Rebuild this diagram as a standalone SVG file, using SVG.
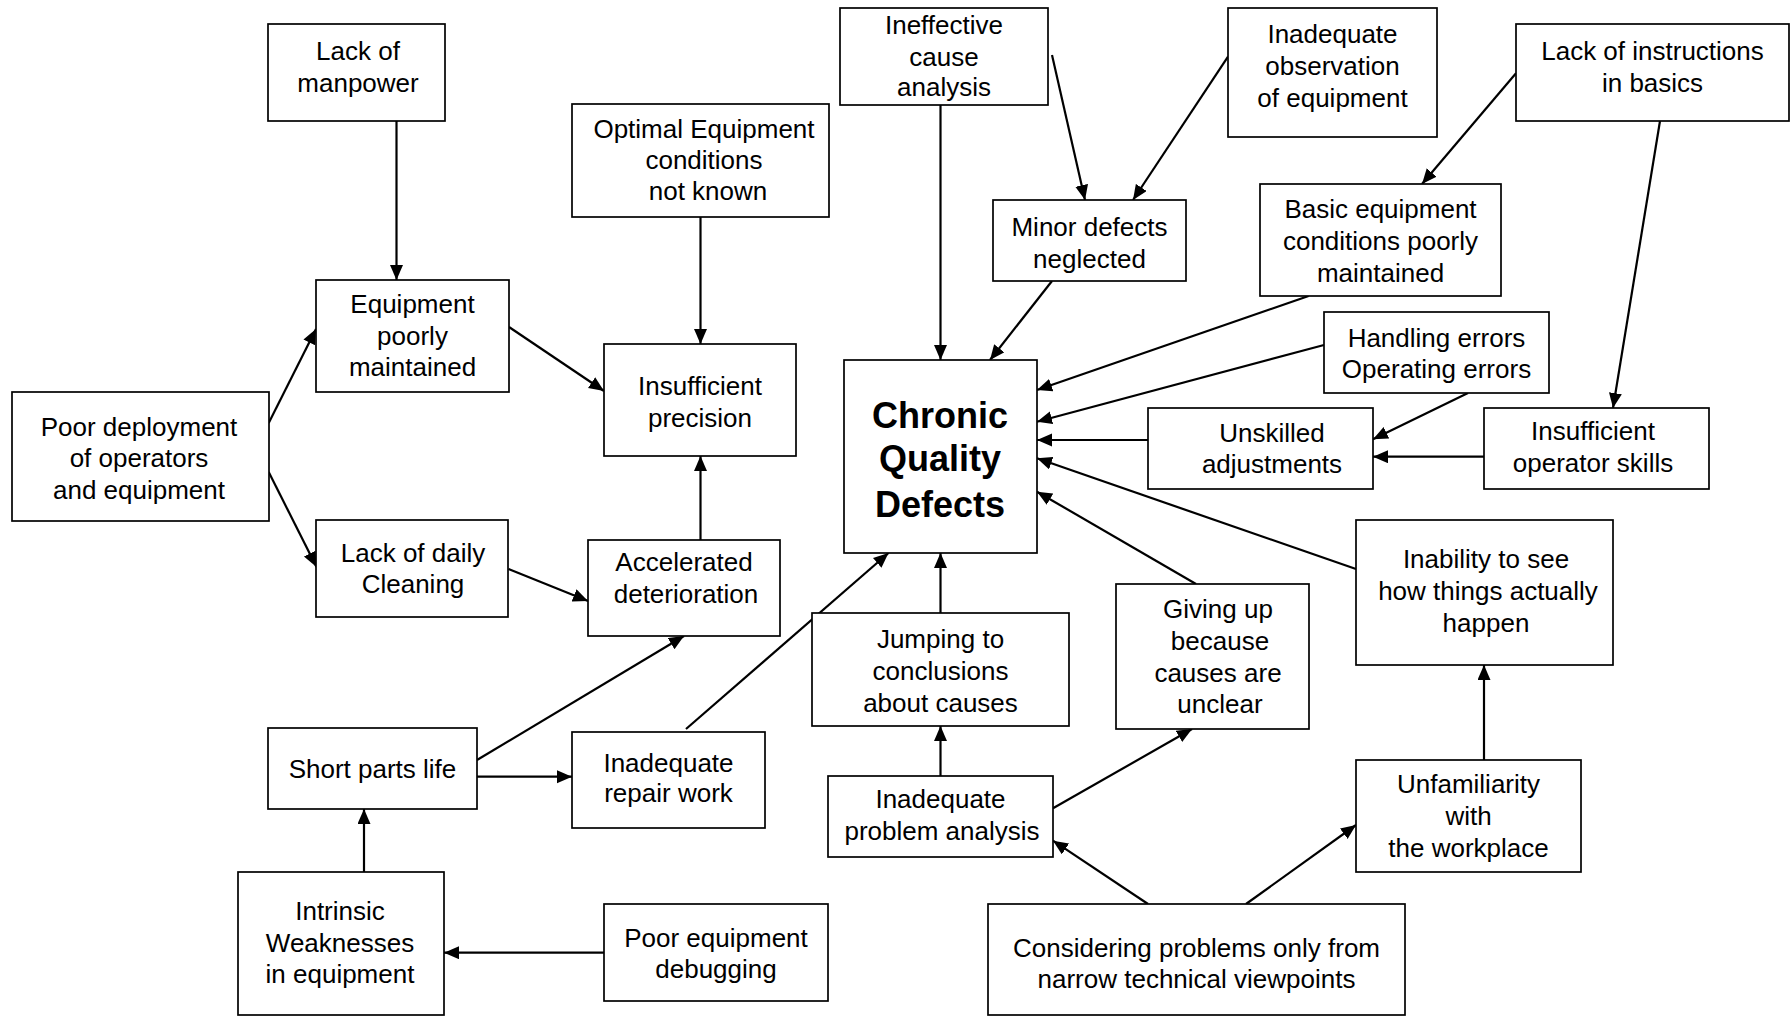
<svg xmlns="http://www.w3.org/2000/svg" width="1791" height="1016" viewBox="0 0 1791 1016">
<style>
.box{fill:#fff;stroke:#000;stroke-width:1.7}
.t{font-family:"Liberation Sans",Arial,sans-serif;font-size:26px;fill:#000;text-anchor:middle}
.b{font-family:"Liberation Sans",Arial,sans-serif;font-size:36px;font-weight:bold;fill:#000;text-anchor:middle}
.c{stroke:#000;stroke-width:2.2;fill:none;marker-end:url(#ah)}
</style>
<defs>
<marker id="ah" markerUnits="userSpaceOnUse" markerWidth="16" markerHeight="14" refX="15" refY="6.5" orient="auto">
<path d="M0,0 L15,6.5 L0,13 z" fill="#000"/>
</marker>
</defs>
<rect width="1791" height="1016" fill="#fff"/>
<g id="connectors">
<line class="c" x1="396.5" y1="121" x2="396.5" y2="280"/>
<line class="c" x1="268.7" y1="423" x2="316" y2="329"/>
<line class="c" x1="268.7" y1="472" x2="316.5" y2="567"/>
<line class="c" x1="509" y1="327" x2="604" y2="391"/>
<line class="c" x1="700.5" y1="217" x2="700.5" y2="344"/>
<line class="c" x1="700.5" y1="540" x2="700.5" y2="456"/>
<line class="c" x1="508.5" y1="569" x2="588" y2="601"/>
<line class="c" x1="477" y1="760" x2="684" y2="636"/>
<line class="c" x1="477" y1="776.7" x2="572" y2="776.7"/>
<line class="c" x1="686" y1="729" x2="888.5" y2="553"/>
<line class="c" x1="364" y1="872" x2="364" y2="809"/>
<line class="c" x1="604" y1="952.7" x2="444" y2="952.7"/>
<line class="c" x1="940.5" y1="105" x2="940.5" y2="360"/>
<line class="c" x1="1052" y1="55" x2="1085" y2="200"/>
<line class="c" x1="1228" y1="56.7" x2="1133" y2="200"/>
<line class="c" x1="1052" y1="281" x2="990" y2="360"/>
<line class="c" x1="1308.6" y1="296" x2="1037" y2="390"/>
<line class="c" x1="1324" y1="345" x2="1037" y2="421.7"/>
<line class="c" x1="1148" y1="440" x2="1037" y2="440"/>
<line class="c" x1="1356" y1="569" x2="1037" y2="458.3"/>
<line class="c" x1="1196" y1="584" x2="1037" y2="491.7"/>
<line class="c" x1="940.5" y1="613" x2="940.5" y2="553"/>
<line class="c" x1="1516" y1="73.3" x2="1422" y2="184"/>
<line class="c" x1="1660" y1="121" x2="1613" y2="408"/>
<line class="c" x1="1468" y1="393" x2="1373" y2="439.3"/>
<line class="c" x1="1484" y1="456.7" x2="1373" y2="456.7"/>
<line class="c" x1="940.5" y1="776" x2="940.5" y2="726"/>
<line class="c" x1="1053" y1="808.3" x2="1192" y2="729"/>
<line class="c" x1="1148" y1="904" x2="1053" y2="840.7"/>
<line class="c" x1="1246" y1="904" x2="1356" y2="825"/>
<line class="c" x1="1484" y1="760" x2="1484" y2="665"/>
</g>
<g id="lack-manpower"><rect class="box" x="268" y="24" width="177" height="97"/><text class="t" x="358" y="60">Lack of</text><text class="t" x="358" y="91.7">manpower</text></g>
<g id="equipment-poorly"><rect class="box" x="316" y="280" width="193" height="112"/><text class="t" x="412.5" y="313">Equipment</text><text class="t" x="412.5" y="345">poorly</text><text class="t" x="412.5" y="376">maintained</text></g>
<g id="poor-deployment"><rect class="box" x="12" y="392" width="257" height="129"/><text class="t" x="139" y="435.5">Poor deployment</text><text class="t" x="139" y="467">of operators</text><text class="t" x="139" y="498.5">and equipment</text></g>
<g id="optimal-conditions"><rect class="box" x="572" y="104" width="257" height="113"/><text class="t" x="704" y="138">Optimal Equipment</text><text class="t" x="704" y="169">conditions</text><text class="t" x="708" y="200">not known</text></g>
<g id="insufficient-precision"><rect class="box" x="604" y="344" width="192" height="112"/><text class="t" x="700" y="395">Insufficient</text><text class="t" x="700" y="427">precision</text></g>
<g id="lack-daily-cleaning"><rect class="box" x="316" y="520" width="192" height="97"/><text class="t" x="413" y="561.7">Lack of daily</text><text class="t" x="413" y="593.3">Cleaning</text></g>
<g id="accelerated-deterioration"><rect class="box" x="588" y="540" width="192" height="96"/><text class="t" x="684" y="570.7">Accelerated</text><text class="t" x="686" y="602.7">deterioration</text></g>
<g id="short-parts-life"><rect class="box" x="268" y="728" width="209" height="81"/><text class="t" x="372.5" y="778.3">Short parts life</text></g>
<g id="inadequate-repair"><rect class="box" x="572" y="732" width="193" height="96"/><text class="t" x="668.5" y="771.7">Inadequate</text><text class="t" x="668.5" y="801.7">repair work</text></g>
<g id="intrinsic-weaknesses"><rect class="box" x="238" y="872" width="206" height="143"/><text class="t" x="340" y="920">Intrinsic</text><text class="t" x="340" y="952">Weaknesses</text><text class="t" x="340" y="983">in equipment</text></g>
<g id="poor-debugging"><rect class="box" x="604" y="904" width="224" height="97"/><text class="t" x="716" y="946.7">Poor equipment</text><text class="t" x="716" y="978.3">debugging</text></g>
<g id="ineffective-cause"><rect class="box" x="840" y="8" width="208" height="97"/><text class="t" x="944" y="34">Ineffective</text><text class="t" x="944" y="66">cause</text><text class="t" x="944" y="96.4">analysis</text></g>
<g id="chronic-quality-defects"><rect class="box" x="844" y="360" width="193" height="193"/><text class="b" x="940" y="428">Chronic</text><text class="b" x="940" y="471">Quality</text><text class="b" x="940" y="517">Defects</text></g>
<g id="minor-defects"><rect class="box" x="993" y="200" width="193" height="81"/><text class="t" x="1089.5" y="235.7">Minor defects</text><text class="t" x="1089.5" y="267.8">neglected</text></g>
<g id="inadequate-observation"><rect class="box" x="1228" y="8" width="209" height="129"/><text class="t" x="1332.5" y="43.3">Inadequate</text><text class="t" x="1332.5" y="75">observation</text><text class="t" x="1332.5" y="106.7">of equipment</text></g>
<g id="lack-instructions"><rect class="box" x="1516" y="24" width="273" height="97"/><text class="t" x="1652.5" y="60">Lack of instructions</text><text class="t" x="1652.5" y="91.7">in basics</text></g>
<g id="basic-equipment"><rect class="box" x="1260" y="184" width="241" height="112"/><text class="t" x="1380.5" y="218.3">Basic equipment</text><text class="t" x="1380.5" y="250">conditions poorly</text><text class="t" x="1380.5" y="281.7">maintained</text></g>
<g id="handling-errors"><rect class="box" x="1324" y="312" width="225" height="81"/><text class="t" x="1436.5" y="346.7">Handling errors</text><text class="t" x="1436.5" y="378.3">Operating errors</text></g>
<g id="unskilled-adjustments"><rect class="box" x="1148" y="408" width="225" height="81"/><text class="t" x="1272" y="441.7">Unskilled</text><text class="t" x="1272" y="473.3">adjustments</text></g>
<g id="insufficient-operator-skills"><rect class="box" x="1484" y="408" width="225" height="81"/><text class="t" x="1593" y="440">Insufficient</text><text class="t" x="1593" y="471.7">operator skills</text></g>
<g id="inability-to-see"><rect class="box" x="1356" y="520" width="257" height="145"/><text class="t" x="1486" y="568.3">Inability to see</text><text class="t" x="1488" y="600">how things actually</text><text class="t" x="1486" y="631.7">happen</text></g>
<g id="giving-up"><rect class="box" x="1116" y="584" width="193" height="145"/><text class="t" x="1218" y="618.3">Giving up</text><text class="t" x="1220" y="650">because</text><text class="t" x="1218" y="681.7">causes are</text><text class="t" x="1220" y="713.3">unclear</text></g>
<g id="jumping-to-conclusions"><rect class="box" x="812" y="613" width="257" height="113"/><text class="t" x="940.5" y="648.3">Jumping to</text><text class="t" x="940.5" y="680">conclusions</text><text class="t" x="940.5" y="711.7">about causes</text></g>
<g id="inadequate-problem-analysis"><rect class="box" x="828" y="776" width="225" height="81"/><text class="t" x="940.5" y="808.3">Inadequate</text><text class="t" x="942" y="840">problem analysis</text></g>
<g id="unfamiliarity"><rect class="box" x="1356" y="760" width="225" height="112"/><text class="t" x="1468.5" y="793.3">Unfamiliarity</text><text class="t" x="1468.5" y="825">with</text><text class="t" x="1468.5" y="856.7">the workplace</text></g>
<g id="considering-problems"><rect class="box" x="988" y="904" width="417" height="111"/><text class="t" x="1196.5" y="956.7">Considering problems only from</text><text class="t" x="1196.5" y="988.3">narrow technical viewpoints</text></g>
</svg>
